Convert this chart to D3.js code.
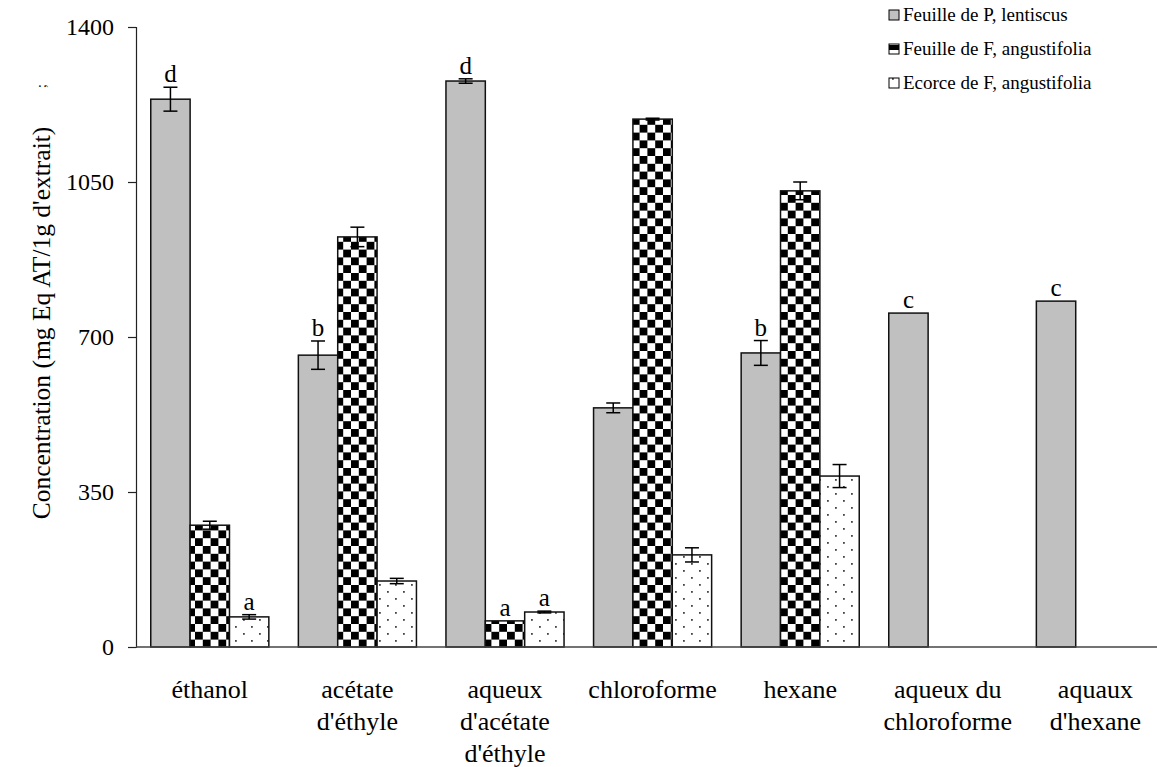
<!DOCTYPE html>
<html>
<head>
<meta charset="utf-8">
<script src="https://cdn.jsdelivr.net/npm/d3@7"></script>
<style>
	body { margin: 0; background: #fff; }
	text { font-family: "Liberation Serif", "Times New Roman", serif; fill: #000; }
</style>
</head>
<body>
<div id="chart"></div>
<script>
//Data
let categories = ["éthanol", "acétate\nd'éthyle", "aqueux\nd'acétate\nd'éthyle", "chloroforme", "hexane", "aqueux du\nchloroforme", "aquaux\nd'hexane"];
let seriesNames = ["Feuille de P, lentiscus", "Feuille de F, angustifolia", "Ecorce de F, angustifolia"];

let lentiscus = [1237, 659, 1278, 540, 664, 754, 781];
let lentiscusErr = [27, 32, 5, 11, 28, 0, 0];
let lentiscusLetters = ["d", "b", "d", "", "b", "c", "c"];

let angustLeaf = [275, 926, 59, 1192, 1030, null, null];
let angustLeafErr = [9, 22, 0, 2, 20, 0, 0];
let angustLeafLetters = ["", "", "a", "", "", "", ""];

let angustBark = [68, 149, 79, 208, 386, null, null];
let angustBarkErr = [5, 6, 2, 16, 26, 0, 0];
let angustBarkLetters = ["a", "", "a", "", "", "", ""];

let yTicks = [0, 350, 700, 1050, 1400];

let series = [
	{values: lentiscus, err: lentiscusErr, letters: lentiscusLetters, fill: "#c0c0c0"},
	{values: angustLeaf, err: angustLeafErr, letters: angustLeafLetters, fill: "url(#checker)"},
	{values: angustBark, err: angustBarkErr, letters: angustBarkLetters, fill: "url(#dots)"}
];

//Dimensions
let width = 1157;
let height = 767;
let plotLeft = 136;
let plotBottom = 647;
let plotTop = 27;
let step = 147.6;

//SVG container
let svg = d3.select("#chart").append("svg")
	.attr("width", width)
	.attr("height", height);

//Patterns
let defs = svg.append("defs");

let checker = defs.append("pattern")
	.attr("id", "checker")
	.attr("patternUnits", "userSpaceOnUse")
	.attr("width", 15.6)
	.attr("height", 15.6);
checker.append("rect").attr("width", 15.6).attr("height", 15.6).attr("fill", "#fff");
checker.append("rect").attr("width", 7.8).attr("height", 7.8).attr("fill", "#000");
checker.append("rect").attr("x", 7.8).attr("y", 7.8).attr("width", 7.8).attr("height", 7.8).attr("fill", "#000");

let checkerSmall = defs.append("pattern")
	.attr("id", "checkerSmall")
	.attr("patternUnits", "userSpaceOnUse")
	.attr("width", 10)
	.attr("height", 10);
checkerSmall.append("rect").attr("width", 10).attr("height", 10).attr("fill", "#fff");
checkerSmall.append("rect").attr("width", 10).attr("height", 5).attr("fill", "#000");

let dots = defs.append("pattern")
	.attr("id", "dots")
	.attr("patternUnits", "userSpaceOnUse")
	.attr("width", 16)
	.attr("height", 14);
dots.append("rect").attr("width", 16).attr("height", 14).attr("fill", "#fff");
dots.append("rect").attr("x", 3).attr("y", 3).attr("width", 1.8).attr("height", 1.8).attr("fill", "#444");
dots.append("rect").attr("x", 11).attr("y", 10).attr("width", 1.8).attr("height", 1.8).attr("fill", "#444");

//Scales
let x = d3.scaleBand()
	.domain(categories)
	.range([plotLeft, plotLeft + step * categories.length])
	.paddingInner(0.2)
	.paddingOuter(0.1);

let xSeries = d3.scaleBand()
	.domain(d3.range(series.length))
	.range([0, x.bandwidth()]);

let y = d3.scaleLinear()
	.domain([0, 1400])
	.range([plotBottom, plotTop]);

//Bars, error bars and letters
series.forEach(function(s, si){
	let rows = categories.map(function(c, i){
		return {cat: c, v: s.values[i], e: s.err[i], l: s.letters[i]};
	}).filter(function(d){ return d.v != null; });

	let g = svg.append("g");

	g.selectAll("rect")
			.data(rows)
		.enter()
			.append("rect")
				.attr("x", function(d){ return x(d.cat) + xSeries(si); })
				.attr("y", function(d){ return y(d.v); })
				.attr("width", xSeries.bandwidth())
				.attr("height", function(d){ return y(0) - y(d.v); })
				.attr("fill", s.fill)
				.attr("stroke", "#111")
				.attr("stroke-width", 1.5);

	let cx = function(d){ return x(d.cat) + xSeries(si) + xSeries.bandwidth() / 2; };

	let eb = g.selectAll(".err")
			.data(rows.filter(function(d){ return d.e > 0; }))
		.enter()
			.append("g")
				.attr("class", "err")
				.attr("stroke", "#000")
				.attr("stroke-width", 1.5);

	eb.append("line")
		.attr("x1", cx).attr("x2", cx)
		.attr("y1", function(d){ return y(d.v + d.e); })
		.attr("y2", function(d){ return y(d.v - d.e); });
	eb.append("line")
		.attr("x1", function(d){ return cx(d) - 7; }).attr("x2", function(d){ return cx(d) + 7; })
		.attr("y1", function(d){ return y(d.v + d.e); })
		.attr("y2", function(d){ return y(d.v + d.e); });
	eb.append("line")
		.attr("x1", function(d){ return cx(d) - 7; }).attr("x2", function(d){ return cx(d) + 7; })
		.attr("y1", function(d){ return y(d.v - d.e); })
		.attr("y2", function(d){ return y(d.v - d.e); });

	g.selectAll(".letter")
			.data(rows.filter(function(d){ return d.l != ""; }))
		.enter()
			.append("text")
				.attr("class", "letter")
				.attr("x", cx)
				.attr("y", function(d){ return y(d.v + d.e) - 5; })
				.attr("text-anchor", "middle")
				.style("font-size", "25px")
				.text(function(d){ return d.l; });
});

//Y axis
let yAxis = svg.append("g")
	.attr("transform", "translate(" + plotLeft + ",0)")
	.call(d3.axisLeft(y).tickValues(yTicks).tickSize(8).tickPadding(14).tickFormat(d3.format("d")));
yAxis.selectAll("text").style("font-size", "24px").style("font-family", "Liberation Serif");
yAxis.selectAll("line, path").attr("stroke", "#222").attr("stroke-width", 1.2);

//X axis line
svg.append("line")
	.attr("x1", plotLeft).attr("x2", width)
	.attr("y1", y(0)).attr("y2", y(0))
	.attr("stroke", "#444")
	.attr("stroke-width", 1.5);

//Category labels
let catLabels = svg.selectAll(".cat")
		.data(categories)
	.enter()
		.append("text")
			.attr("class", "cat")
			.attr("text-anchor", "middle")
			.style("font-size", "26px")
			.attr("transform", function(d){ return "translate(" + (x(d) + x.bandwidth() / 2) + ",698)"; });

catLabels.selectAll("tspan")
		.data(function(d){ return d.split("\n"); })
	.enter()
		.append("tspan")
			.attr("x", 0)
			.attr("y", function(d, i){ return i * 32; })
			.text(function(d){ return d; });

//Y axis title
svg.append("text")
	.attr("transform", "translate(50,323) rotate(-90)")
	.attr("text-anchor", "middle")
	.style("font-size", "25.5px")
	.text("Concentration (mg Eq AT/1g d'extrait)");

svg.append("text")
	.attr("transform", "translate(46,86) rotate(-90)")
	.attr("text-anchor", "middle")
	.style("font-size", "14px")
	.text(";");

//Legend
let legend = svg.selectAll(".legend")
		.data(seriesNames)
	.enter()
		.append("g")
			.attr("class", "legend")
			.attr("transform", function(d, i){ return "translate(889," + (21 + i * 34) + ")"; });

legend.append("rect")
	.attr("x", 0)
	.attr("y", -11)
	.attr("width", 10)
	.attr("height", 10)
	.attr("fill", function(d, i){ return i == 1 ? "url(#checkerSmall)" : series[i].fill; })
	.attr("stroke", "#000")
	.attr("stroke-width", 1);

legend.append("text")
	.attr("x", 14)
	.attr("y", 0)
	.style("font-size", "19px")
	.text(function(d){ return d; });
</script>
</body>
</html>
